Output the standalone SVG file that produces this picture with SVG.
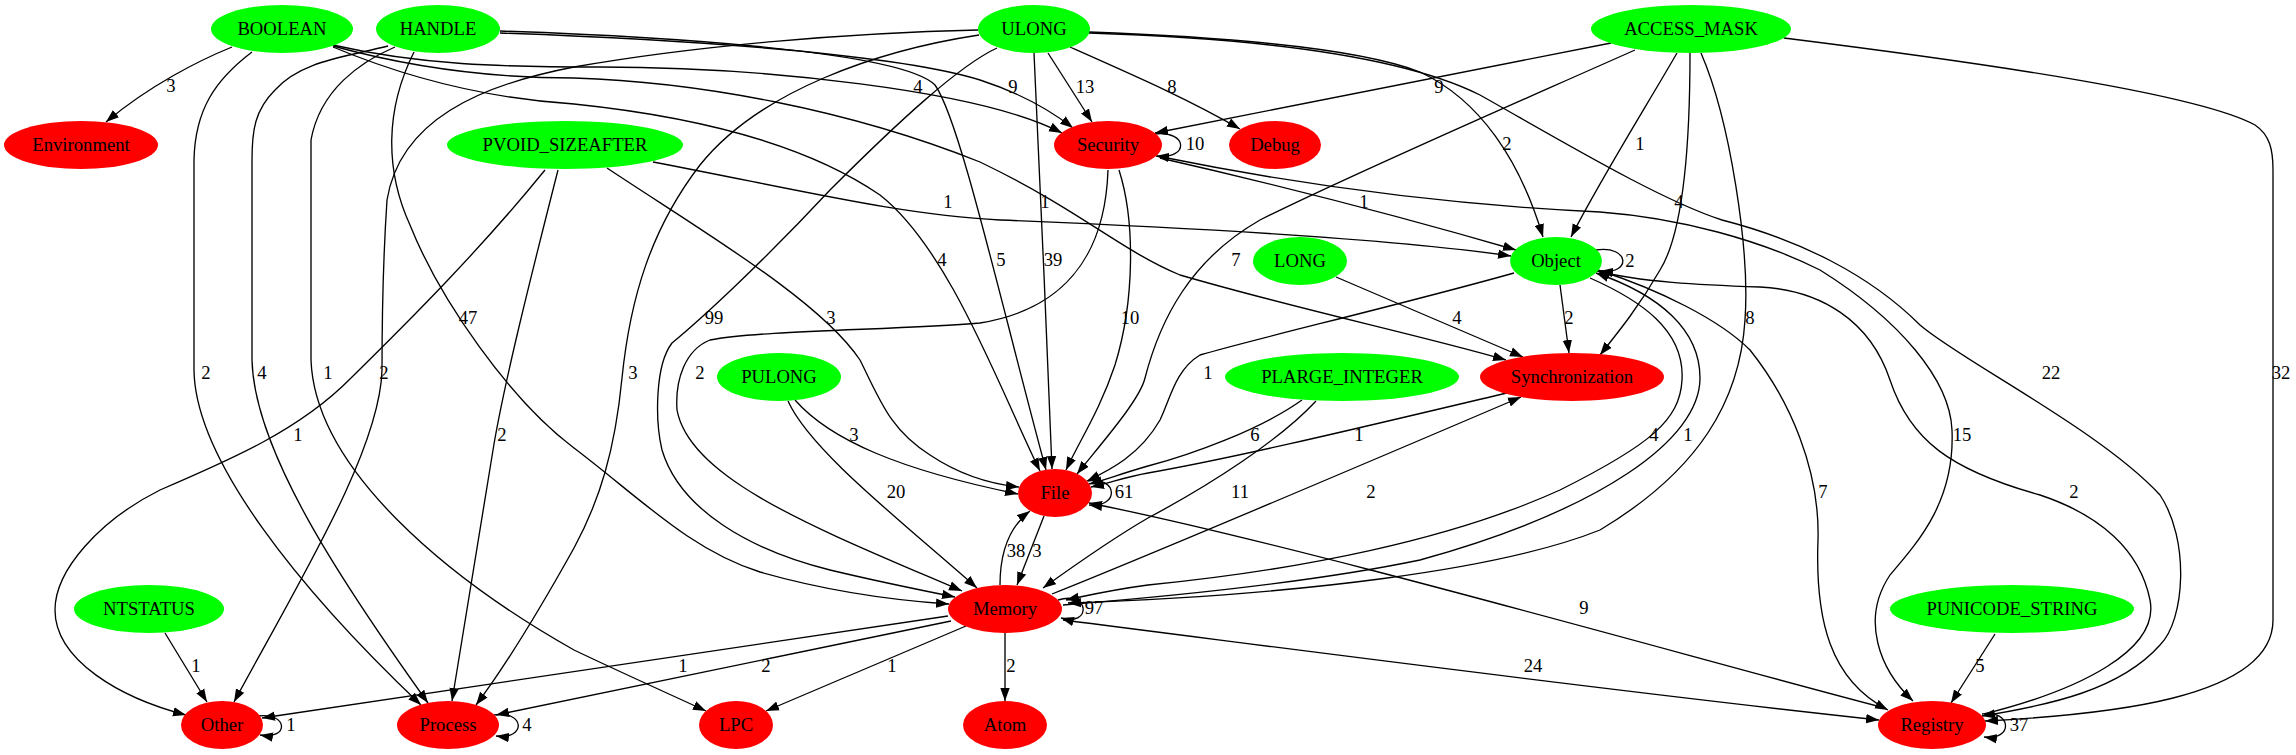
<svg xmlns="http://www.w3.org/2000/svg" width="2296" height="755" viewBox="0 0 2296 755">
<style>
.e{fill:none;stroke:#000;stroke-width:1.33;marker-end:url(#ah)}
.t{font-family:"Liberation Serif","Times New Roman",serif;font-size:18.67px;text-anchor:middle;fill:#000}
.g{fill:#00ff00}
.r{fill:#ff0000}
</style>
<defs>
<marker id="ah" viewBox="0 0 13 10" refX="13" refY="5" markerWidth="13" markerHeight="10" markerUnits="userSpaceOnUse" orient="auto"><path d="M0,0.3 L13,5 L0,9.7 z" fill="#000"/></marker>
</defs>
<rect width="2296" height="755" fill="#fff"/>
<g id="edges">
<path class="e" d="M232,47 C200,60 150,85 106,122"/>
<path class="e" d="M252,52 C215,80 195,110 194,160 L194,370 C195,460 300,590 421,705"/>
<path class="e" d="M388,46 C340,58 300,62 275,90 C255,110 252,130 252,160 L252,360 C254,450 340,580 428,703"/>
<path class="e" d="M395,47 C360,62 320,90 311,140 L311,360 C315,470 450,580 574,650 C620,672 665,692 706,711"/>
<path class="e" d="M414,52 C385,110 385,170 410,225 C440,300 510,400 574,448 C640,498 690,550 760,572 C830,592 890,600 949,604"/>
<path class="e" d="M545,170 C480,250 410,320 351,378 C300,430 230,460 160,490 C100,520 55,570 55,610 C55,660 120,698 186,715"/>
<path class="e" d="M558,170 C530,280 505,380 494,444 L452,701"/>
<path class="e" d="M607,168 C700,230 820,300 860,360 C880,400 890,430 930,455 C960,475 990,484 1019,487"/>
<path class="e" d="M653,162 C800,190 900,215 1000,220 C1200,228 1400,240 1511,256"/>
<path class="e" d="M978,30 C850,33 700,45 574,67 C480,85 400,120 387,200 C383,260 382,330 382,370 C380,450 300,580 234,702"/>
<path class="e" d="M979,35 C880,50 760,90 700,165 C650,230 630,300 622,378 C615,450 600,500 574,548 C545,600 510,660 476,705"/>
<path class="e" d="M997,48 C960,65 900,120 830,190 C760,265 700,320 672,343 C655,365 655,420 662,450 C680,510 750,550 830,570 C880,582 920,590 955,597"/>
<path class="e" d="M1108,170 C1105,260 1060,310 980,323 C900,330 760,330 710,340 C685,350 675,380 677,410 C690,480 820,530 962,591"/>
<path class="e" d="M1034,53 C1038,150 1048,350 1052,469"/>
<path class="e" d="M333,45 C420,65 500,67 600,67 C760,67 980,90 1062,133"/>
<path class="e" d="M500,33 C700,40 900,55 980,80 C1020,93 1050,110 1073,128"/>
<path class="e" d="M500,31 C650,36 900,50 935,85 C960,120 1000,300 1046,470"/>
<path class="e" d="M333,47 C400,75 480,98 574,104 C680,115 800,140 880,195 C950,250 1000,390 1040,471"/>
<path class="e" d="M333,46 C420,70 500,78 574,78 C700,82 850,110 980,162 C1080,210 1120,250 1180,275 C1300,310 1420,335 1506,360"/>
<path class="e" d="M1048,53 L1092,122"/>
<path class="e" d="M1070,47 C1140,78 1190,100 1240,129"/>
<path class="e" d="M1089,32 C1200,36 1350,45 1420,72 C1480,100 1520,160 1543,237"/>
<path class="e" d="M1089,33 C1250,38 1400,55 1480,95 C1560,140 1660,200 1722,220 C1800,240 1870,275 1920,325 C1960,360 2100,430 2160,495 C2190,540 2185,620 2160,645 C2120,690 2050,705 1982,716"/>
<path class="e" d="M1611,43 C1450,75 1300,105 1155,133"/>
<path class="e" d="M1635,50 C1500,110 1350,175 1260,220 C1190,260 1160,320 1145,378 C1140,400 1100,445 1077,474"/>
<path class="e" d="M1677,53 C1650,100 1600,180 1571,237"/>
<path class="e" d="M1690,53 C1690,130 1685,230 1660,270 C1640,305 1620,330 1600,355"/>
<path class="e" d="M1701,53 C1730,120 1750,250 1745,320 C1740,400 1700,470 1600,530 C1500,570 1300,595 1068,603"/>
<path class="e" d="M1784,38 C2000,65 2200,95 2255,125 C2270,135 2273,150 2273,170 L2273,620 C2273,700 2100,715 1985,721"/>
<path class="e" d="M795,400 C830,440 900,470 1018,494"/>
<path class="e" d="M788,401 C810,450 900,520 977,588"/>
<path class="e" d="M1514,273 C1400,305 1250,340 1200,355 C1175,370 1170,400 1160,420 C1140,455 1110,470 1087,481"/>
<path class="e" d="M1302,400 C1260,430 1190,455 1148,466 C1120,474 1105,480 1089,484"/>
<path class="e" d="M1507,393 C1400,418 1250,455 1148,473 C1125,477 1110,483 1091,487"/>
<path class="e" d="M1316,401 C1280,440 1210,485 1148,518 C1110,540 1075,565 1043,588"/>
<path class="e" d="M1052,594 C1150,555 1350,470 1521,397"/>
<path class="e" d="M1590,278 C1640,300 1685,330 1682,380 C1680,420 1650,445 1560,490 C1450,540 1300,570 1148,585 C1110,590 1090,595 1066,600"/>
<path class="e" d="M1063,605 C1150,598 1300,585 1420,560 C1600,510 1700,440 1700,378 C1700,330 1660,295 1596,273"/>
<path class="e" d="M1598,270 C1660,290 1720,320 1750,350 C1790,400 1820,470 1818,540 C1815,620 1830,680 1888,710"/>
<path class="e" d="M1162,157 C1300,185 1450,205 1600,212 C1680,218 1760,240 1820,270 C1900,320 1950,380 1952,430 C1955,500 1920,540 1890,575 C1860,620 1880,670 1913,701"/>
<path class="e" d="M1984,714 C2080,690 2160,650 2150,600 C2140,550 2100,515 2040,495 C1950,470 1910,440 1890,380 C1870,320 1820,290 1760,287 C1700,285 1640,282 1597,271"/>
<path class="e" d="M1885,708 C1700,660 1300,545 1089,503"/>
<path class="e" d="M1063,620 C1300,650 1600,690 1879,720"/>
<path class="e" d="M1000,585 C1000,560 1005,530 1030,511"/>
<path class="e" d="M1044,516 L1017,585"/>
<path class="e" d="M1058,600 C1090,590 1092,627 1061,618"/>
<path class="e" d="M1088,481 C1118,476 1120,508 1089,505"/>
<path class="e" d="M1596,250 C1630,245 1632,275 1600,271"/>
<path class="e" d="M1155,134 C1188,130 1190,160 1156,156"/>
<path class="e" d="M1982,714 C2012,709 2014,741 1984,737"/>
<path class="e" d="M258,716 C288,712 290,740 260,735"/>
<path class="e" d="M494,715 C525,710 527,740 496,736"/>
<path class="e" d="M165,633 L207,702"/>
<path class="e" d="M948,616 L262,718"/>
<path class="e" d="M951,621 L496,715"/>
<path class="e" d="M966,626 L766,711"/>
<path class="e" d="M1005,633 L1005,701"/>
<path class="e" d="M1336,277 L1523,357"/>
<path class="e" d="M1560,285 L1569,353"/>
<path class="e" d="M1160,158 C1300,190 1420,222 1516,250"/>
<path class="e" d="M1119,170 C1135,220 1135,300 1115,365 C1100,410 1080,440 1066,470"/>
<path class="e" d="M1995,634 L1951,703"/>
<g class="t">
<text x="171" y="92">3</text>
<text x="206" y="379">2</text>
<text x="262" y="379">4</text>
<text x="328" y="379">1</text>
<text x="468" y="324">47</text>
<text x="298" y="441">1</text>
<text x="502" y="441">2</text>
<text x="831" y="324">3</text>
<text x="948" y="208">1</text>
<text x="384" y="379">2</text>
<text x="633" y="379">3</text>
<text x="714" y="324">99</text>
<text x="700" y="379">2</text>
<text x="1053" y="266">39</text>
<text x="918" y="93">4</text>
<text x="1013" y="93">9</text>
<text x="1001" y="266">5</text>
<text x="942" y="266">4</text>
<text x="1045" y="208">1</text>
<text x="1085" y="93">13</text>
<text x="1172" y="93">8</text>
<text x="1507" y="150">2</text>
<text x="2051" y="379">22</text>
<text x="1439" y="93">9</text>
<text x="1236" y="266">7</text>
<text x="1640" y="150">1</text>
<text x="1679" y="208">4</text>
<text x="1750" y="324">8</text>
<text x="2281" y="379">32</text>
<text x="854" y="441">3</text>
<text x="896" y="498">20</text>
<text x="1208" y="379">1</text>
<text x="1255" y="441">6</text>
<text x="1359" y="441">1</text>
<text x="1240" y="498">11</text>
<text x="1371" y="498">2</text>
<text x="1654" y="441">4</text>
<text x="1688" y="441">1</text>
<text x="1823" y="498">7</text>
<text x="1962" y="441">15</text>
<text x="2074" y="498">2</text>
<text x="1584" y="614">9</text>
<text x="1533" y="672">24</text>
<text x="1016" y="557">38</text>
<text x="1037" y="557">3</text>
<text x="1094" y="614">97</text>
<text x="1124" y="498">61</text>
<text x="1630" y="267">2</text>
<text x="1195" y="150">10</text>
<text x="2019" y="731">37</text>
<text x="291" y="731">1</text>
<text x="527" y="731">4</text>
<text x="196" y="672">1</text>
<text x="683" y="672">1</text>
<text x="766" y="672">2</text>
<text x="892" y="672">1</text>
<text x="1011" y="672">2</text>
<text x="1457" y="324">4</text>
<text x="1569" y="324">2</text>
<text x="1364" y="208">1</text>
<text x="1130" y="324">10</text>
<text x="1980" y="672">5</text>
</g>
</g>
<g id="BOOLEAN"><ellipse class="g" cx="282" cy="29" rx="71" ry="24"/><text class="t" x="282" y="35">BOOLEAN</text></g>
<g id="HANDLE"><ellipse class="g" cx="438" cy="29" rx="62" ry="24"/><text class="t" x="438" y="35">HANDLE</text></g>
<g id="ULONG"><ellipse class="g" cx="1034" cy="29" rx="56" ry="24"/><text class="t" x="1034" y="35">ULONG</text></g>
<g id="ACCESS_MASK"><ellipse class="g" cx="1691" cy="29" rx="100" ry="24"/><text class="t" x="1691" y="35">ACCESS_MASK</text></g>
<g id="Environment"><ellipse class="r" cx="81" cy="145" rx="77" ry="24"/><text class="t" x="81" y="151">Environment</text></g>
<g id="PVOID_SIZEAFTER"><ellipse class="g" cx="565" cy="145" rx="118" ry="24"/><text class="t" x="565" y="151">PVOID_SIZEAFTER</text></g>
<g id="Security"><ellipse class="r" cx="1108" cy="145" rx="54" ry="24"/><text class="t" x="1108" y="151">Security</text></g>
<g id="Debug"><ellipse class="r" cx="1275" cy="145" rx="46" ry="24"/><text class="t" x="1275" y="151">Debug</text></g>
<g id="LONG"><ellipse class="g" cx="1300" cy="261" rx="47" ry="24"/><text class="t" x="1300" y="267">LONG</text></g>
<g id="Object"><ellipse class="g" cx="1556" cy="261" rx="46" ry="24"/><text class="t" x="1556" y="267">Object</text></g>
<g id="PULONG"><ellipse class="g" cx="779" cy="377" rx="62" ry="24"/><text class="t" x="779" y="383">PULONG</text></g>
<g id="PLARGE_INTEGER"><ellipse class="g" cx="1342" cy="377" rx="117" ry="24"/><text class="t" x="1342" y="383">PLARGE_INTEGER</text></g>
<g id="Synchronization"><ellipse class="r" cx="1572" cy="377" rx="92" ry="24"/><text class="t" x="1572" y="383">Synchronization</text></g>
<g id="File"><ellipse class="r" cx="1055" cy="493" rx="37" ry="24"/><text class="t" x="1055" y="499">File</text></g>
<g id="NTSTATUS"><ellipse class="g" cx="149" cy="609" rx="75" ry="24"/><text class="t" x="149" y="615">NTSTATUS</text></g>
<g id="Memory"><ellipse class="r" cx="1005" cy="609" rx="57" ry="24"/><text class="t" x="1005" y="615">Memory</text></g>
<g id="PUNICODE_STRING"><ellipse class="g" cx="2012" cy="609" rx="122" ry="24"/><text class="t" x="2012" y="615">PUNICODE_STRING</text></g>
<g id="Other"><ellipse class="r" cx="222" cy="725" rx="41" ry="24"/><text class="t" x="222" y="731">Other</text></g>
<g id="Process"><ellipse class="r" cx="448" cy="725" rx="51" ry="24"/><text class="t" x="448" y="731">Process</text></g>
<g id="LPC"><ellipse class="r" cx="736" cy="725" rx="37" ry="24"/><text class="t" x="736" y="731">LPC</text></g>
<g id="Atom"><ellipse class="r" cx="1005" cy="725" rx="42" ry="24"/><text class="t" x="1005" y="731">Atom</text></g>
<g id="Registry"><ellipse class="r" cx="1932" cy="725" rx="54" ry="24"/><text class="t" x="1932" y="731">Registry</text></g>
</svg>
